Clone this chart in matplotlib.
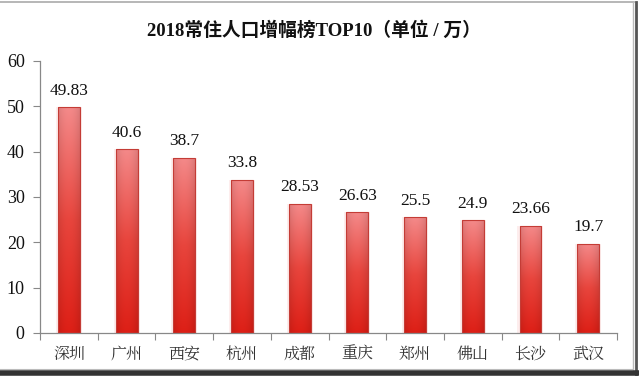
import numpy as np
import matplotlib
matplotlib.use("Agg")
import matplotlib.pyplot as plt
from matplotlib.colors import LinearSegmentedColormap
from matplotlib.lines import Line2D

# data
cities = ["深圳", "广州", "西安", "杭州", "成都", "重庆", "郑州", "佛山", "长沙", "武汉"]
growth = [49.83, 40.6, 38.7, 33.8, 28.53, 26.63, 25.5, 24.9, 23.66, 19.7]
value_labels = ["49.83", "40.6", "38.7", "33.8", "28.53", "26.63", "25.5", "24.9", "23.66", "19.7"]
yticks = [0, 10, 20, 30, 40, 50, 60]

title = "2018常住人口增幅榜TOP10（单位 / 万）"

num_font = ["Liberation Serif", "Noto Sans CJK SC"]
cjk_font = ["Noto Serif CJK SC", "Noto Sans CJK SC", "DejaVu Sans"]

fig = plt.figure(figsize=(6.39, 3.76), dpi=100)
ax = fig.add_axes([0.0626, 0.1144, 0.903, 0.7234])

x = np.arange(len(cities))
width = 0.38

# soft pink halo behind each bar
ax.bar(x, growth, width=width + 0.07, color="#f9c4c4", alpha=0.3, linewidth=0, zorder=1)
bars = ax.bar(x, growth, width=width, color="none", edgecolor="#c43c36", linewidth=0.8, zorder=3)

cmap = LinearSegmentedColormap.from_list("redgrad", ["#dd1f16", "#e8453d", "#f48a8a"])
grad = np.linspace(0, 1, 256).reshape(-1, 1)
shade = 1 - 0.10 * np.abs(np.linspace(-1, 1, 32)) ** 2
for b in bars:
    bx, by = b.get_x(), b.get_y()
    bw, bh = b.get_width(), b.get_height()
    rgb = cmap(grad)[:, :, :3] * shade[None, :, None]
    im = ax.imshow(rgb, extent=[bx, bx + bw, by, by + bh], origin="lower",
                   aspect="auto", zorder=2, interpolation="bilinear")
    clip = plt.Rectangle((bx, by), bw, bh, transform=ax.transData)
    im.set_clip_path(clip)

for xi, v, lab in zip(x, growth, value_labels):
    ax.annotate(lab, (xi, v), xytext=(0, 6), textcoords="offset points",
                ha="center", va="bottom", fontsize=12.5, family=num_font, color="#111111")

ax.set_xlim(-0.5, len(cities) - 0.5)
ax.set_ylim(0, 60)
ax.set_yticks(yticks)
ax.set_yticklabels([str(t) for t in yticks], family=num_font, fontsize=13, color="#111111")
ax.set_xticks(x)
ax.set_xticklabels(cities, family=cjk_font, fontsize=11.5, color="#333333")
ax.tick_params(axis="x", which="major", length=0, pad=9)
ax.set_xticks(np.arange(-0.5, len(cities), 1), minor=True)
ax.tick_params(axis="x", which="minor", length=5, width=0.8, color="#888888", direction="out")
ax.tick_params(axis="y", length=5, width=0.8, color="#888888", pad=6)

for s in ["top", "right"]:
    ax.spines[s].set_visible(False)
for s in ["left", "bottom"]:
    ax.spines[s].set_color("#888888")
    ax.spines[s].set_linewidth(0.9)

fig.text(0.492, 0.918, title, ha="center", va="center", fontsize=13.5,
         fontweight="bold", family=num_font, color="#111111")

# picture frame
fig.add_artist(Line2D([0, 0.992], [0.996, 0.996], color="#aaaaaa", lw=1.2))
fig.add_artist(Line2D([0.99, 0.99], [0.015, 0.996], color="#bbbbbb", lw=1))
fig.add_artist(Line2D([0.996, 0.996], [0.0, 0.996], color="#555555", lw=2))
fig.add_artist(Line2D([0, 1], [0.008, 0.008], color="#333333", lw=4))
fig.add_artist(Line2D([0, 0.99], [0.018, 0.018], color="#bbbbbb", lw=0.8))

fig.savefig("out.png", dpi=100)
